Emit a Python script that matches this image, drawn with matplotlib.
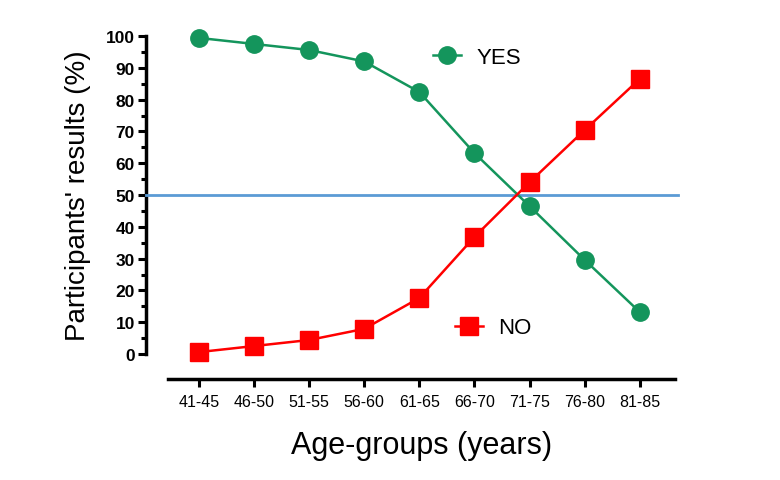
import matplotlib.pyplot as plt
from matplotlib.ticker import MultipleLocator

plt.rcParams['font.family'] = ['Liberation Sans', 'DejaVu Sans']

# 연령대별 응답 비율
age_groups = ['41-45', '46-50', '51-55', '56-60', '61-65', '66-70', '71-75', '76-80', '81-85']
yes_pct = [99.4, 97.5, 95.6, 92.0, 82.4, 63.2, 46.5, 29.6, 13.2]
no_pct = [0.6, 2.5, 4.4, 7.9, 17.6, 36.8, 54.0, 70.4, 86.5]
ref_level = 50

green = '#14955c'
red = '#ff0000'

fig = plt.figure(figsize=(7.8, 4.81), dpi=100)
ax = fig.add_axes([168 / 780, 126 / 481, 507 / 780, 318 / 481])

x = range(len(age_groups))
yes_line, = ax.plot(x, yes_pct, color=green, lw=1.8, marker='o', ms=12.5, clip_on=False, zorder=4)
no_line, = ax.plot(x, no_pct, color=red, lw=1.8, marker='s', ms=12.5, clip_on=False, zorder=4)

# 50% 기준선 - y축에서 오른쪽 끝까지
ax.axhline(ref_level, xmin=-22 / 507, xmax=1 + 3 / 507, color='#5b9bd5', lw=2, clip_on=False, zorder=3)

ax.set_xlim(-0.56, 8.64)
ax.set_ylim(0, 100)
ax.set_xticks(list(x))
ax.set_xticklabels(age_groups)
ax.yaxis.set_major_locator(MultipleLocator(10))
ax.yaxis.set_minor_locator(MultipleLocator(5))

# outward 값은 포인트 단위 (px * 0.72)
ax.spines['top'].set_visible(False)
ax.spines['right'].set_visible(False)
ax.spines['left'].set_position(('outward', 22 * 0.72))
ax.spines['bottom'].set_position(('outward', 25 * 0.72))
ax.spines['left'].set_linewidth(2.5)
ax.spines['bottom'].set_linewidth(2.5)
ax.tick_params(axis='y', which='major', length=6, width=2.2, pad=2, labelsize=12.5)
ax.tick_params(axis='y', which='minor', length=3.5, width=2.2)
ax.tick_params(axis='x', length=6, width=2.2, pad=5, labelsize=11.5)
for lab in ax.get_yticklabels():
    lab.set_fontweight('bold')

ax.set_ylabel("Participants' results (%)", fontsize=20, labelpad=11)
ax.set_xlabel('Age-groups (years)', fontsize=22, labelpad=15)

# 범례 - 각각 따로 배치
leg_kw = dict(loc='center left', frameon=False, handlelength=1.25, handletextpad=0.7,
              fontsize=16, borderpad=0, borderaxespad=0)
leg1 = fig.legend([yes_line], ['YES'], bbox_to_anchor=(433 / 780, 1 - 58 / 481), **leg_kw)
leg2 = fig.legend([no_line], ['NO'], bbox_to_anchor=(455 / 780, 1 - 329 / 481), **leg_kw)

fig.savefig('out.png', dpi=100)
